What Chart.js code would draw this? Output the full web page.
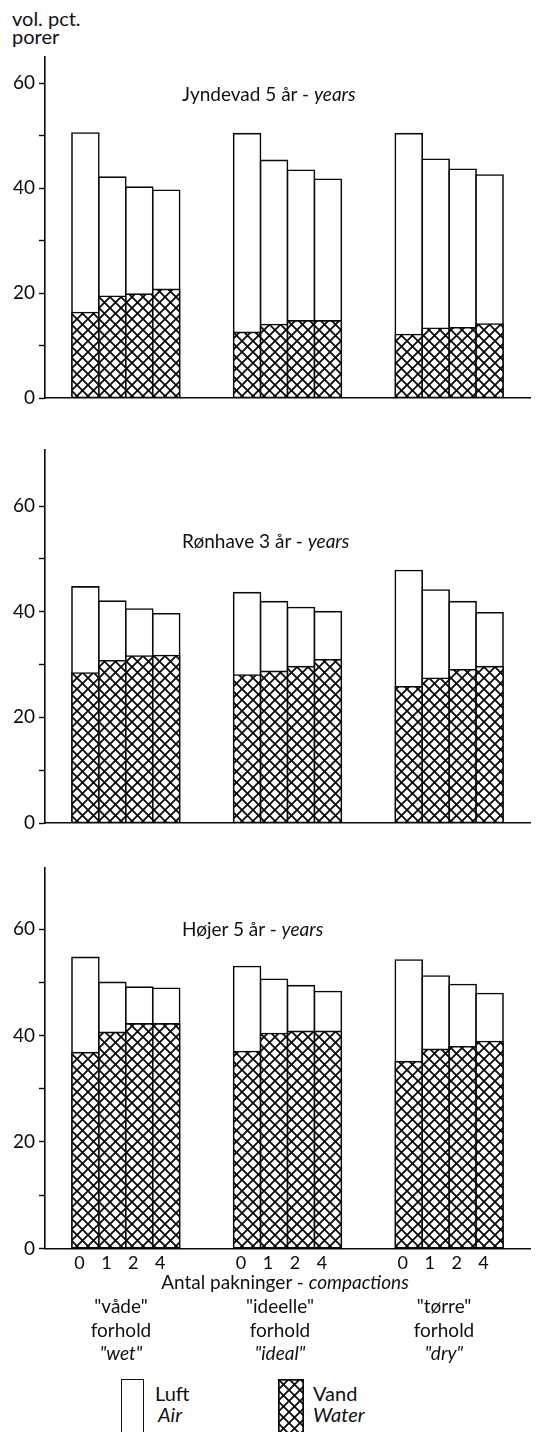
<!DOCTYPE html>
<html>
<head>
<meta charset="utf-8">
<script src="https://cdn.jsdelivr.net/npm/chart.js@4"></script>
<style>
  html, body { margin: 0; padding: 0; background: #fff; }
  #page { position: relative; width: 536px; height: 1432px; overflow: hidden;
          font-family: Lato, sans-serif; color: #111; font-size: 19px; }
  canvas.panel { position: absolute; left: 0; }
  .txt { position: absolute; white-space: nowrap; line-height: 1; }
  .c { transform: translateX(-50%); text-align: center; }
  i { font-style: italic; }
  .box { position: absolute; width: 21px; height: 60px; border: 1.7px solid #111; }
</style>
</head>
<body>
<div id="page">
  <div class="txt" style="left:12px;top:8px;font-size:20px">vol. pct.</div>
  <div class="txt" style="left:12px;top:26px;font-size:20px">porer</div>

  <canvas class="panel" id="p1" width="536" height="420" style="top:0"></canvas>
  <canvas class="panel" id="p2" width="536" height="420" style="top:425px"></canvas>
  <canvas class="panel" id="p3" width="536" height="440" style="top:850px"></canvas>

  <div class="txt" style="left:182px;top:84px">Jyndevad 5 år - <i>years</i></div>
  <div class="txt" style="left:182px;top:531px">Rønhave 3 år - <i>years</i></div>
  <div class="txt" style="left:182px;top:919px">Højer 5 år - <i>years</i></div>

  <div class="txt c" style="left:285px;top:1272px">Antal pakninger - <i>compactions</i></div>
  <div id="cond"></div>

  <div class="box" style="left:121px;top:1379px"></div>
  <div class="txt" style="left:155px;top:1383px;font-size:20px">Luft</div>
  <div class="txt" style="left:158px;top:1404px;font-size:20px"><i>Air</i></div>
  <canvas id="leg-water" width="26" height="60" style="position:absolute;left:278px;top:1379px"></canvas>
  <div class="txt" style="left:313px;top:1383px;font-size:20px">Vand</div>
  <div class="txt" style="left:313px;top:1404px;font-size:20px"><i>Water</i></div>
</div>

<script>
/* ── Données ──────────────────────────────────────────────────────────────── */
const compactions = ['0', '1', '2', '4'];
const condDa      = ['"våde"', '"ideelle"', '"tørre"'];
const condEn      = ['"wet"', '"ideal"', '"dry"'];
const condX       = [121, 280, 444];

// porosité totale (vol. pct.) puis part occupée par l'eau, 4 barres par condition
const jyndevadTotal = [50.5, 42.1, 40.2, 39.6,  50.4, 45.3, 43.4, 41.7,  50.4, 45.5, 43.6, 42.5];
const jyndevadWater = [16.3, 19.4, 19.8, 20.7,  12.5, 14.0, 14.7, 14.7,  12.1, 13.3, 13.4, 14.1];
const ronhaveTotal  = [44.7, 42.0, 40.5, 39.6,  43.6, 41.9, 40.8, 40.0,  47.8, 44.1, 41.9, 39.8];
const ronhaveWater  = [28.4, 30.7, 31.6, 31.7,  28.0, 28.7, 29.6, 30.9,  25.8, 27.4, 29.0, 29.6];
const hojerTotal    = [54.7, 50.0, 49.1, 48.9,  53.0, 50.6, 49.4, 48.3,  54.2, 51.2, 49.6, 47.9];
const hojerWater    = [36.8, 40.6, 42.2, 42.2,  37.0, 40.4, 40.8, 40.8,  35.1, 37.4, 37.9, 38.9];

const yTicks = [0, 10, 20, 30, 40, 50, 60];

/* ── Cases de l'axe x : 1 vide, 4 barres, 2 vides, ... ───────────────────── */
const slotLabels = [''];
const slotIndex  = [];
condDa.forEach((_, g) => {
  compactions.forEach(c => { slotIndex.push(slotLabels.length); slotLabels.push(c); });
  slotLabels.push('');
  if (g < condDa.length - 1) slotLabels.push('');
});

function toSlots(vals) {
  const out = new Array(slotLabels.length).fill(null);
  vals.forEach((v, i) => { out[slotIndex[i]] = v; });
  return out;
}

function hatchTile(size) {
  const c = document.createElement('canvas');
  c.width = c.height = size;
  const g = c.getContext('2d');
  g.fillStyle = '#fff';
  g.fillRect(0, 0, size, size);
  g.strokeStyle = '#0a0a0a';
  g.lineWidth = 1.8;
  g.beginPath();
  g.moveTo(-1, -1);       g.lineTo(size + 1, size + 1);
  g.moveTo(-1, size + 1); g.lineTo(size + 1, -1);
  g.stroke();
  return c;
}
const TILE = hatchTile(11);

const INK  = '#0a0a0a';
const FONT = { family: 'Lato, sans-serif', size: 19 };

/* ── Un panneau ───────────────────────────────────────────────────────────── */
function buildPanel(id, total, water, yMax, pad, showX) {
  const canvas = document.getElementById(id);
  const hatch  = canvas.getContext('2d').createPattern(TILE, 'repeat');
  return new Chart(canvas, {
    type: 'bar',
    data: {
      labels: slotLabels,
      datasets: [
        { label: 'Vand', data: toSlots(water), backgroundColor: hatch, order: 0 },
        { label: 'Luft', data: toSlots(total), backgroundColor: '#fff', order: 1 },
      ].map(d => Object.assign(d, {
        borderColor: INK, borderWidth: 1.6, borderSkipped: false, inflateAmount: 0.8,
        grouped: false, barPercentage: 1, categoryPercentage: 1,
      })),
    },
    options: {
      responsive: false,
      animation: false,
      layout: { padding: { top: pad[0], bottom: pad[1], left: 0, right: 6 } },
      plugins: { legend: { display: false }, tooltip: { enabled: false } },
      scales: {
        x: {
          grid: { display: false, drawTicks: false },
          border: { display: true, color: INK, width: 1.6 },
          ticks: { display: showX, autoSkip: false, maxRotation: 0, padding: 4, labelOffset: -6,
                   color: INK, font: { family: FONT.family, size: 18 } },
        },
        y: {
          min: 0, max: yMax,
          afterFit: s => { s.width = 45; },
          afterBuildTicks: s => { s.ticks = yTicks.map(v => ({ value: v })); },
          grid: { drawOnChartArea: false, tickLength: 6, tickColor: INK, tickWidth: 1.4 },
          border: { color: INK, width: 1.6 },
          ticks: { padding: 4, color: INK, font: FONT,
                   callback: v => (v % 20 === 0 ? v : '') },
        },
      },
    },
  });
}

buildPanel('p1', jyndevadTotal, jyndevadWater, 65,   [57, 22], false);
buildPanel('p2', ronhaveTotal,  ronhaveWater,  70.6, [25, 22], false);
buildPanel('p3', hojerTotal,    hojerWater,    71.5, [18, 12], true);

/* ── Libellés des conditions et légende ──────────────────────────────────── */
const condEl = document.getElementById('cond');
condDa.forEach((t, i) => {
  condEl.insertAdjacentHTML('beforeend',
    `<div class="txt c" style="left:${condX[i]}px;top:1296px">${t}</div>
     <div class="txt c" style="left:${condX[i]}px;top:1320px">forhold</div>
     <div class="txt c" style="left:${condX[i]}px;top:1343px"><i>${condEn[i]}</i></div>`);
});

const lg = document.getElementById('leg-water').getContext('2d');
lg.fillStyle = lg.createPattern(TILE, 'repeat');
lg.fillRect(0, 0, 26, 60);
lg.strokeStyle = INK;
lg.lineWidth = 1.7;
lg.strokeRect(0.85, 0.85, 24.3, 60);
</script>
</body>
</html>
